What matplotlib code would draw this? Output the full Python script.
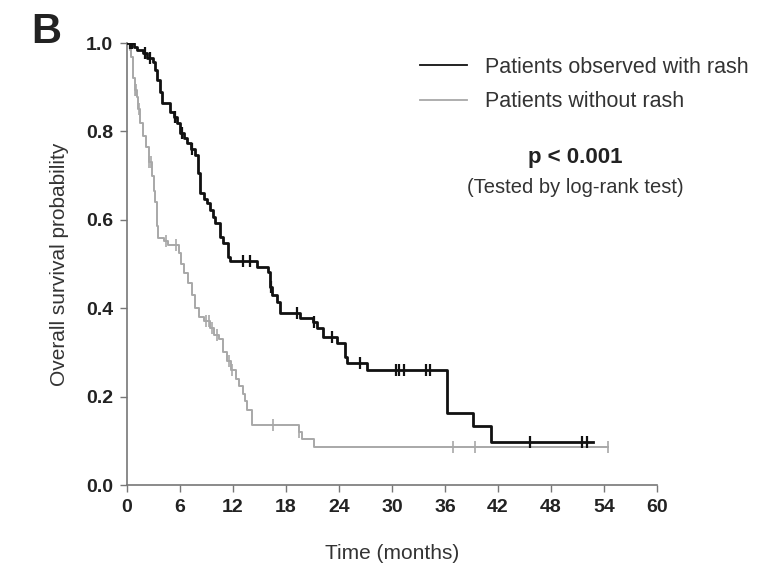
import numpy as np
import matplotlib
matplotlib.use("Agg")
import matplotlib.pyplot as plt
from matplotlib.lines import Line2D

plt.rcParams['font.family'] = ['Liberation Sans', 'DejaVu Sans']

# Kaplan-Meier steps (time in months, survival probability)
rash_t = [0, 0.8, 1.1, 1.8, 2.3, 2.9, 3.2, 3.4, 3.7, 4.0, 4.9, 5.3, 5.7, 6.0, 6.5,
          6.8, 7.2, 7.7, 8.0, 8.3, 8.7, 9.1, 9.4, 9.7, 10.0, 10.5, 10.9, 11.4, 11.7,
          14.7, 16.0, 16.2, 16.4, 17.0, 17.3, 19.6, 21.1, 21.5, 22.2, 23.8, 24.7,
          24.9, 27.2, 36.2, 39.2, 41.2, 52.8]
rash_s = [1.0, 0.99, 0.984, 0.977, 0.966, 0.957, 0.94, 0.916, 0.89, 0.864, 0.844,
          0.832, 0.819, 0.796, 0.785, 0.774, 0.76, 0.747, 0.706, 0.661, 0.648, 0.638,
          0.622, 0.607, 0.593, 0.561, 0.548, 0.516, 0.506, 0.493, 0.482, 0.448, 0.43,
          0.414, 0.389, 0.378, 0.369, 0.355, 0.335, 0.321, 0.29, 0.276, 0.26, 0.163,
          0.133, 0.097, 0.097]
rash_cens = [0.3, 0.6, 2.0, 2.6, 5.4, 6.2, 7.4, 13.1, 13.9, 16.3, 19.2, 21.2, 23.2,
             26.4, 30.4, 30.8, 31.3, 33.8, 34.3, 45.6, 51.5, 52.1]

norash_t = [0, 0.3, 0.5, 0.7, 0.9, 1.1, 1.2, 1.5, 1.8, 2.2, 2.5, 2.8, 3.0, 3.2, 3.4,
            3.5, 4.2, 4.6, 5.9, 6.1, 6.5, 6.9, 7.3, 7.7, 8.2, 8.7, 9.4, 9.9, 10.4,
            10.9, 11.3, 11.8, 12.3, 12.7, 13.1, 13.4, 13.6, 14.1, 19.5, 19.8, 21.2, 54.5]
norash_s = [1.0, 0.984, 0.968, 0.92, 0.894, 0.878, 0.85, 0.82, 0.79, 0.765, 0.73,
            0.70, 0.665, 0.64, 0.585, 0.56, 0.553, 0.543, 0.525, 0.50, 0.48, 0.457,
            0.43, 0.40, 0.38, 0.37, 0.355, 0.34, 0.33, 0.30, 0.28, 0.26, 0.24, 0.225,
            0.205, 0.19, 0.17, 0.135, 0.12, 0.105, 0.085, 0.085]
norash_cens = [0.4, 0.9, 1.0, 1.4, 2.5, 2.7, 4.4, 5.6, 8.9, 9.3, 9.6, 10.2, 11.5,
               11.9, 16.5, 19.5, 36.9, 39.4, 54.5]

xticks = [0, 6, 12, 18, 24, 30, 36, 42, 48, 54, 60]
yticks = [0.0, 0.2, 0.4, 0.6, 0.8, 1.0]


def surv_at(times, surv, c):
    idx = np.searchsorted(times, c, side='right') - 1
    return np.asarray(surv)[idx]


fig = plt.figure(figsize=(7.76, 5.71), dpi=100)
ax = fig.add_axes([0.1637, 0.1506, 0.683, 0.774])

black = '#111111'
grey = '#a8a8a8'

ax.step(norash_t, norash_s, where='post', color=grey, lw=1.4, zorder=2)
ax.plot(norash_cens, surv_at(norash_t, norash_s, norash_cens), ls='none',
        marker='|', ms=8, mew=1.2, color=grey, zorder=2)
ax.step(rash_t, rash_s, where='post', color=black, lw=2.0, zorder=3)
ax.plot(rash_cens, surv_at(rash_t, rash_s, rash_cens), ls='none',
        marker='|', ms=8, mew=1.6, color=black, zorder=3)

ax.set_xlim(0, 60)
ax.set_ylim(0, 1.0)
ax.set_xticks(xticks)
ax.set_yticks(yticks)
ax.set_yticklabels([f"{v:.1f}" for v in yticks])
for s in ['top', 'right']:
    ax.spines[s].set_visible(False)
for s in ['left', 'bottom']:
    ax.spines[s].set_color('#777777')
    ax.spines[s].set_linewidth(1.2)
ax.tick_params(direction='out', length=5, width=1, color='#777777',
               labelsize=14, labelcolor='#222222', pad=5)
for lab in ax.get_xticklabels() + ax.get_yticklabels():
    lab.set_fontweight('bold')

ax.set_xlabel('Time (months)', fontsize=15, color='#333333', labelpad=20)
ax.set_ylabel('Overall survival probability', fontsize=15, color='#333333',
              labelpad=12)

handles = [Line2D([], [], color=black, lw=1.3),
           Line2D([], [], color=grey, lw=1.3)]
ax.legend(handles, ['Patients observed with rash', 'Patients without rash'],
          loc='upper left', bbox_to_anchor=(0.553, 0.969), frameon=False,
          fontsize=15.5, handlelength=2.2, handletextpad=0.8, labelspacing=0.62,
          borderpad=0, borderaxespad=0, labelcolor='#333333')

ax.text(0.845, 0.742, 'p < 0.001', transform=ax.transAxes, ha='center',
        va='center', fontsize=16, fontweight='bold', color='#222222')
ax.text(0.845, 0.674, '(Tested by log-rank test)', transform=ax.transAxes,
        ha='center', va='center', fontsize=14.5, color='#333333')

fig.text(0.04, 0.925, 'B', fontsize=30, fontweight='bold', color='#222222')

fig.savefig('out.png', dpi=100)
